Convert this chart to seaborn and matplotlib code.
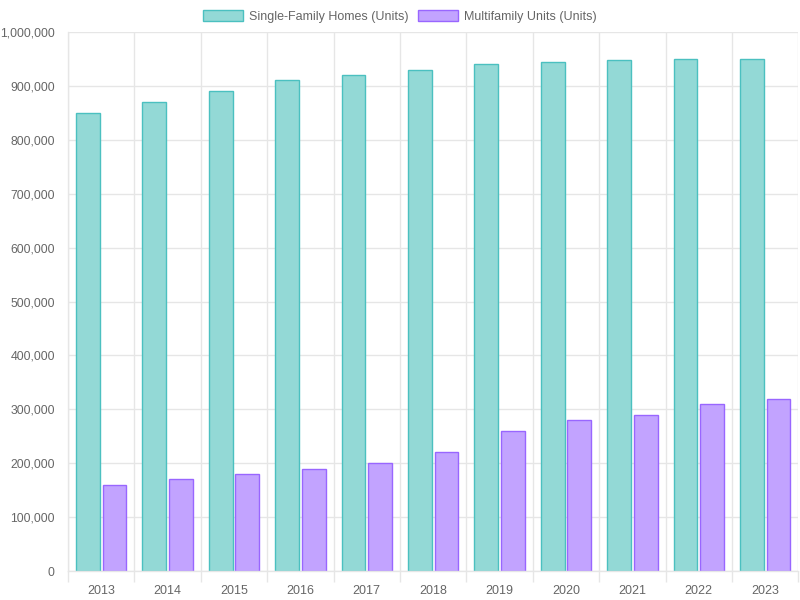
import matplotlib
matplotlib.use("Agg")
import matplotlib.pyplot as plt
import seaborn as sns
import pandas as pd
from matplotlib.patches import Patch
from matplotlib.ticker import FuncFormatter, FixedLocator

years = ["2013", "2014", "2015", "2016", "2017", "2018", "2019", "2020", "2021", "2022", "2023"]
single_family = [850000, 870000, 890000, 910000, 920000, 930000, 940000, 945000, 948000, 950000, 950000]
multifamily = [160000, 170000, 180000, 190000, 200000, 220000, 260000, 280000, 290000, 310000, 320000]
series_names = ["Single-Family Homes (Units)", "Multifamily Units (Units)"]
fills = ["#93d9d6", "#c2a3ff"]
edges = ["#4bc0c0", "#9966ff"]

df = pd.DataFrame({
    "Year": years * 2,
    "Units": single_family + multifamily,
    "Series": [series_names[0]] * len(years) + [series_names[1]] * len(years),
})

sns.set_theme(style="white")
plt.rcParams["font.family"] = ["Liberation Sans", "DejaVu Sans"]

fig = plt.figure(figsize=(8, 6), dpi=100)
ax = fig.add_axes([0.085, 0.0483, 0.913, 0.8984])

sns.barplot(data=df, x="Year", y="Units", hue="Series", order=years,
            hue_order=series_names, palette=fills, width=0.8, gap=0.1,
            saturation=1, legend=False, ax=ax)

for i, container in enumerate(ax.containers):
    for bar in container:
        bar.set_edgecolor(edges[i])
        bar.set_linewidth(1)

grid_c = "#e6e6e6"
ax.set_ylim(0, 1000000)
ax.set_xlim(-0.5, len(years) - 0.5)
ax.yaxis.set_major_locator(FixedLocator(range(0, 1000001, 100000)))
ax.yaxis.set_major_formatter(FuncFormatter(lambda v, p: f"{int(v):,}"))
ax.set_xticks(range(len(years)))
ax.set_xticks([i - 0.5 for i in range(len(years) + 1)], minor=True)
ax.grid(axis="y", which="major", color=grid_c, linewidth=1)
ax.grid(axis="x", which="minor", color=grid_c, linewidth=1)
ax.grid(axis="x", which="major", visible=False)
ax.set_axisbelow(True)

ax.tick_params(axis="y", which="major", length=8, color=grid_c, labelsize=8.8, labelcolor="#666666", pad=1.5)
ax.tick_params(axis="x", which="major", length=0, labelsize=9, labelcolor="#666666", pad=10)
ax.tick_params(axis="x", which="minor", length=8, color=grid_c, bottom=True)
ax.set_xlabel("")
ax.set_ylabel("")
for s in ["top", "right"]:
    ax.spines[s].set_visible(False)
for s in ["left", "bottom"]:
    ax.spines[s].set_color(grid_c)
    ax.spines[s].set_linewidth(1)

handles = [Patch(facecolor=fills[i], edgecolor=edges[i], linewidth=1, label=series_names[i]) for i in range(2)]
fig.legend(handles=handles, loc="upper center", bbox_to_anchor=(0.5, 1.0), ncol=2, frameon=False,
           fontsize=9, labelcolor="#666666", handlelength=3.2, handleheight=0.95,
           handletextpad=0.45, columnspacing=0.8, borderaxespad=0.4)

fig.savefig("out.png", dpi=100)
